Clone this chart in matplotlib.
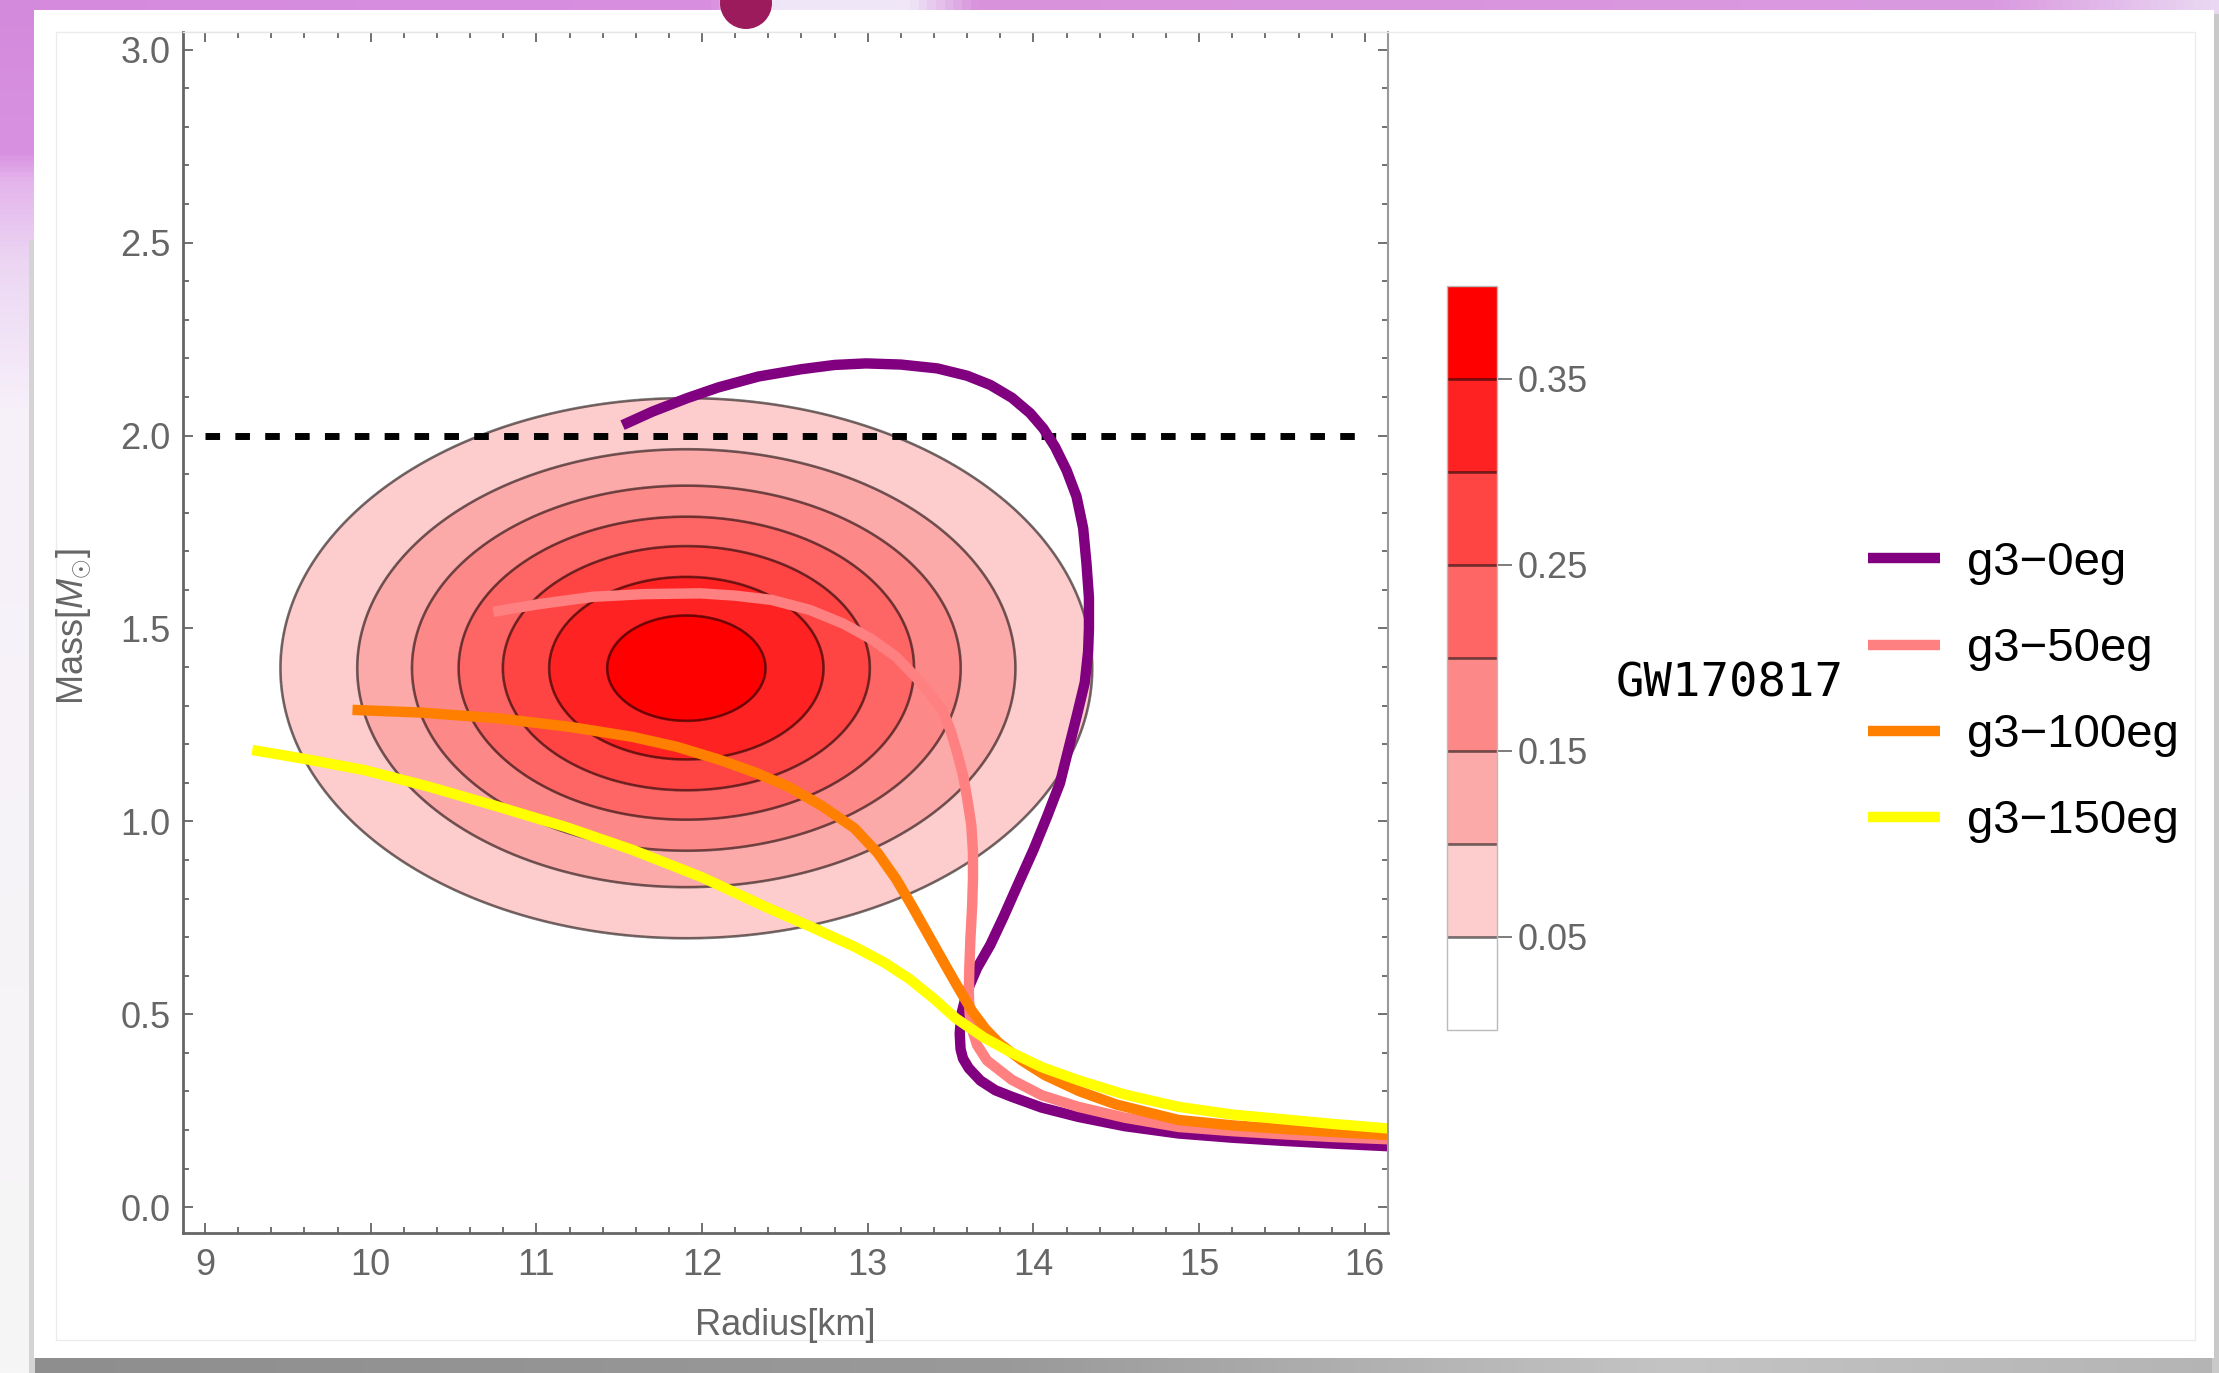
import numpy as np
import matplotlib.pyplot as plt
from matplotlib.patches import Rectangle, Circle
from matplotlib.colors import LinearSegmentedColormap
from matplotlib.ticker import MultipleLocator, FormatStrFormatter

plt.rcParams['font.family'] = ['Liberation Sans', 'DejaVu Sans']
plt.rcParams['mathtext.fontset'] = 'custom'
plt.rcParams['mathtext.rm'] = 'Liberation Sans'
plt.rcParams['mathtext.it'] = 'Liberation Sans:italic'

# mass-radius curves: radius [km], mass [M_sun]
r_g3_0 = [11.52, 11.70, 11.91, 12.10, 12.34, 12.60, 12.80, 12.99, 13.20, 13.42, 13.60,
          13.74, 13.87, 13.98, 14.06, 14.13, 14.20, 14.26, 14.30, 14.32, 14.335, 14.335,
          14.33, 14.31, 14.26, 14.21, 14.16, 14.08, 14.0, 13.91, 13.82, 13.74, 13.66,
          13.60, 13.565, 13.555, 13.56, 13.575, 13.61, 13.68, 13.77, 13.87, 14.05, 14.27,
          14.55, 14.875, 15.2, 15.5, 15.8, 16.14]
m_g3_0 = [2.027, 2.062, 2.097, 2.125, 2.153, 2.172, 2.183, 2.187, 2.184, 2.174, 2.155,
          2.131, 2.098, 2.058, 2.018, 1.971, 1.91, 1.842, 1.76, 1.669, 1.58, 1.50,
          1.44, 1.36, 1.271, 1.185, 1.099, 1.01, 0.926, 0.84, 0.753, 0.68, 0.62,
          0.56, 0.50, 0.45, 0.41, 0.385, 0.360, 0.328, 0.303, 0.286, 0.258, 0.234,
          0.21, 0.191, 0.18, 0.172, 0.165, 0.158]

r_g3_50 = [10.74, 11.0, 11.34, 11.65, 11.99, 12.20, 12.42, 12.65, 12.85, 13.02, 13.17,
           13.32, 13.45, 13.50, 13.54, 13.575, 13.60, 13.625, 13.635, 13.635, 13.63,
           13.62, 13.613, 13.61, 13.615, 13.63, 13.66, 13.72, 13.87, 14.05, 14.27, 14.55,
           14.875, 15.2, 15.5, 15.8, 16.14]
m_g3_50 = [1.543, 1.562, 1.582, 1.589, 1.591, 1.585, 1.574, 1.548, 1.513, 1.473, 1.427,
           1.36, 1.289, 1.235, 1.177, 1.12, 1.06, 0.99, 0.92, 0.85, 0.78,
           0.70, 0.62, 0.554, 0.50, 0.46, 0.42, 0.38, 0.33, 0.29, 0.26, 0.232,
           0.208, 0.197, 0.189, 0.182, 0.176]

r_g3_100 = [9.89, 10.3, 10.77, 11.2, 11.58, 11.85, 12.11, 12.33, 12.52, 12.72, 12.92,
            13.06, 13.17, 13.26, 13.36, 13.47, 13.55, 13.63, 13.71, 13.79, 13.93, 14.07,
            14.28, 14.5, 14.875, 15.2, 15.5, 15.8, 16.14]
m_g3_100 = [1.289, 1.282, 1.267, 1.245, 1.219, 1.193, 1.159, 1.125, 1.09, 1.041, 0.982,
            0.918, 0.851, 0.786, 0.71, 0.626, 0.566, 0.508, 0.462, 0.426, 0.38, 0.342,
            0.30, 0.266, 0.226, 0.212, 0.203, 0.195, 0.187]

r_g3_150 = [9.285, 9.6, 9.96, 10.35, 10.77, 11.18, 11.58, 12.0, 12.38, 12.65, 12.92,
            13.1, 13.25, 13.40, 13.53, 13.70, 13.87, 14.05, 14.27, 14.55, 14.875, 15.2,
            15.5, 15.8, 16.14]
m_g3_150 = [1.185, 1.162, 1.133, 1.09, 1.038, 0.985, 0.926, 0.855, 0.779, 0.728, 0.675,
            0.634, 0.592, 0.54, 0.49, 0.44, 0.40, 0.363, 0.329, 0.292, 0.26, 0.24,
            0.228, 0.216, 0.204]

eos_labels = ['g3\u22120eg', 'g3\u221250eg', 'g3\u2212100eg', 'g3\u2212150eg']
eos_colors = ['#800080', '#FF8080', '#FF8000', '#FFFF00']

# GW170817 constraint as a gaussian in (R, M)
gw_center = (11.905, 1.397)
gw_sigma = (1.218, 0.348)
gw_peak = 0.378
gw_levels = [0.0, 0.05, 0.10, 0.15, 0.20, 0.25, 0.30, 0.35, 0.40]
gw_colors = ['#FFFFFF', '#FDCCCC', '#FCA9A9', '#FD8888', '#FE6666', '#FF4444', '#FF2222', '#FF0000']
cbar_ticks = [0.05, 0.15, 0.25, 0.35]

# 2 M_sun reference line
two_msun_r = [9.0, 15.95]
two_msun_m = [2.0, 2.0]

W, H = 2219, 1373
fig = plt.figure(figsize=(W / 100, H / 100), dpi=100)

# slide background
bg = fig.add_axes([0, 0, 1, 1], zorder=-5)
bg.axis('off')
grad = np.linspace(0, 1, 512)
top_cmap = LinearSegmentedColormap.from_list(
    'top', [(0, '#D58ADE'), (0.32, '#D88FE0'), (0.35, '#EFE6F8'), (0.41, '#EFE6F8'),
            (0.44, '#D892DC'), (0.9, '#DA9AE0'), (1, '#EAD8F3')])
bg.imshow(grad[None, :], extent=(0, W, 14, 0), cmap=top_cmap, aspect='auto')
left_cmap = LinearSegmentedColormap.from_list(
    'left', [(0, '#D48ADC'), (0.11, '#D891E0'), (0.13, '#E4B4EC'), (0.19, '#ECD6F3'),
             (0.3, '#F7F1FA'), (1, '#F6F6F6')])
bg.imshow(grad[:, None], extent=(0, 40, H, 0), cmap=left_cmap, aspect='auto')
bottom_cmap = LinearSegmentedColormap.from_list(
    'bottom', [(0, '#8e8e8e'), (0.45, '#9a9a9a'), (0.75, '#c4c4c4'), (1, '#b4b4b4')])
bg.imshow(grad[None, :], extent=(30, W, H, 1354), cmap=bottom_cmap, aspect='auto')
bg.add_patch(Rectangle((29, 240), 6, H - 240, color='#d4d4d4', lw=0))
bg.add_patch(Rectangle((2212, 14), 7, H, color='#c9c9c9', lw=0))
bg.add_patch(Rectangle((34, 10), 2180, 1348, facecolor='white', lw=0))
bg.add_patch(Rectangle((56, 32), 2139, 1308, fill=False, edgecolor='#ececec', lw=1))
bg.add_patch(Circle((746, 3), 26, color='#9B1B5C', lw=0))
bg.set_xlim(0, W)
bg.set_ylim(H, 0)

ax = fig.add_axes([183 / W, 1 - 1233 / H, 1205 / W, 1201 / H])
ax.set_facecolor('none')
xlim = (8.867, 16.14)
ylim = (-0.067, 3.046)

rr = np.linspace(xlim[0], xlim[1], 500)
mm = np.linspace(ylim[0], ylim[1], 500)
R, M = np.meshgrid(rr, mm)
Z = gw_peak * np.exp(-0.5 * (((R - gw_center[0]) / gw_sigma[0]) ** 2
                             + ((M - gw_center[1]) / gw_sigma[1]) ** 2))
cf = ax.contourf(R, M, Z, levels=gw_levels, colors=gw_colors)
cs = ax.contour(R, M, Z, levels=gw_levels[1:-1], colors='k', linewidths=1.9, alpha=0.55)

ax.plot(two_msun_r, two_msun_m, color='k', lw=5, dashes=(2.1, 2.2), solid_capstyle='butt')

curves = [(r_g3_0, m_g3_0), (r_g3_50, m_g3_50), (r_g3_100, m_g3_100), (r_g3_150, m_g3_150)]
handles = []
for (r, m), lab, col in zip(curves, eos_labels, eos_colors):
    ln, = ax.plot(r, m, color=col, lw=7.5, label=lab, solid_capstyle='butt',
                  solid_joinstyle='round')
    handles.append(ln)

ax.set_xlim(*xlim)
ax.set_ylim(*ylim)
ax.xaxis.set_major_locator(MultipleLocator(1))
ax.xaxis.set_minor_locator(MultipleLocator(0.2))
ax.yaxis.set_major_locator(MultipleLocator(0.5))
ax.yaxis.set_minor_locator(MultipleLocator(0.1))
ax.yaxis.set_major_formatter(FormatStrFormatter('%.1f'))
ax.tick_params(which='both', direction='in', top=True, right=True, colors='#666666',
               labelsize=26, width=1.3)
ax.tick_params(which='major', length=7)
ax.tick_params(which='minor', length=4)
ax.tick_params(axis='x', pad=11)
ax.tick_params(axis='y', pad=9)
for t in ax.xaxis.get_major_ticks() + ax.xaxis.get_minor_ticks():
    t.tick2line.set_color('#cccccc')
for side in ['left', 'bottom']:
    ax.spines[side].set_color('#666666')
    ax.spines[side].set_linewidth(2)
ax.spines['right'].set_color('#999999')
ax.spines['right'].set_linewidth(1.5)
ax.spines['top'].set_color('#e6e6e6')
ax.spines['top'].set_linewidth(1)

ax.set_xlabel('Radius[km]', fontsize=26, color='#666666')
ax.xaxis.label.set_va('center')
ax.xaxis.set_label_coords(0.5, -0.0774)
ax.set_ylabel(r'Mass[$M_{\odot}$]', fontsize=26, color='#666666')
ax.yaxis.label.set_va('center')
ax.yaxis.set_label_coords(-0.0905, 0.505)

# colorbar for the GW170817 density
cax = fig.add_axes([1447 / W, 1 - 1030 / H, 50 / W, 744 / H])
cb = fig.colorbar(cf, cax=cax, ticks=cbar_ticks)
cb.add_lines(cs)
cb.outline.set_edgecolor('#bbbbbb')
cb.outline.set_linewidth(1)
cax.tick_params(length=11, width=1.2, colors='#666666', labelsize=26, pad=4)
cax.yaxis.set_major_formatter(FormatStrFormatter('%.2f'))

fig.text(1730 / W, 1 - 684 / H, 'GW170817', family='DejaVu Sans Mono', fontsize=34,
         ha='center', va='center', color='black')

fig.legend(handles=handles, loc='upper left', bbox_to_anchor=(1868 / W, 1 - 541 / H),
           frameon=False, fontsize=34, handlelength=1.53, handletextpad=0.57,
           labelspacing=0.89, borderpad=0, borderaxespad=0)

fig.savefig('out.png', dpi=100)
